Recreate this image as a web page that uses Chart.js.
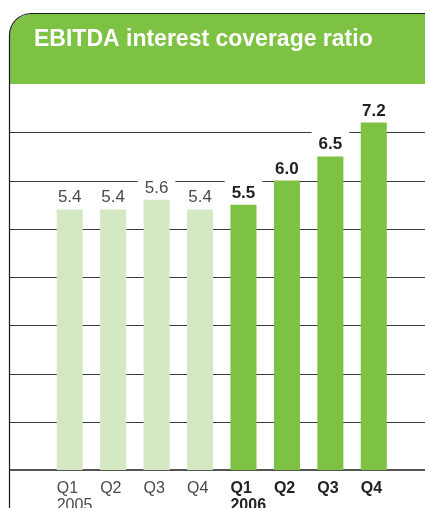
<!DOCTYPE html>
<html>
<head>
<meta charset="utf-8">
<script src="https://cdn.jsdelivr.net/npm/chart.js@4"></script>
<style>
  html, body { margin: 0; padding: 0; background: #fff; }
  #wrap { width: 425px; height: 508px; }
</style>
</head>
<body>
<div id="wrap"><canvas id="ebitda-chart"></canvas></div>
<script>
const titleText = 'EBITDA interest coverage ratio';
const quarters = [['Q1', '2005'], 'Q2', 'Q3', 'Q4', ['Q1', '2006'], 'Q2', 'Q3', 'Q4'];
const ratios = [5.4, 5.4, 5.6, 5.4, 5.5, 6.0, 6.5, 7.2];
const isCurrentYear = [false, false, false, false, true, true, true, true];
const gridValues = [1, 2, 3, 4, 5, 6, 7];

const green = '#7dc243';
const paleGreen = '#d4e9c3';
const fontFamily = '"Liberation Sans", Arial, Helvetica, sans-serif';

// header band, frame and horizontal rules
const framePlugin = {
  id: 'frame',
  beforeDraw(chart) {
    const ctx = chart.ctx;
    const w = chart.width, h = chart.height;
    const left = 10, top = 14, bottom = 84, r = 22;
    ctx.save();
    ctx.fillStyle = '#fff';
    ctx.fillRect(0, 0, w, h);

    ctx.beginPath();
    ctx.moveTo(left, bottom);
    ctx.lineTo(left, top + r);
    ctx.arcTo(left, top, left + r, top, r);
    ctx.lineTo(w, top);
    ctx.lineTo(w, bottom);
    ctx.closePath();
    ctx.fillStyle = green;
    ctx.fill();

    ctx.beginPath();
    ctx.moveTo(left - 0.5, h);
    ctx.lineTo(left - 0.5, top + r);
    ctx.arcTo(left - 0.5, top - 0.5, left + r, top - 0.5, r);
    ctx.lineTo(w, top - 0.5);
    ctx.strokeStyle = '#1a1a1a';
    ctx.lineWidth = 1.2;
    ctx.stroke();

    ctx.fillStyle = '#fff';
    ctx.font = 'bold 23px ' + fontFamily;
    ctx.textBaseline = 'alphabetic';
    ctx.textAlign = 'left';
    ctx.fillText(titleText, 34, 46);
    ctx.restore();
  },
  beforeDatasetsDraw(chart) {
    const ctx = chart.ctx;
    const y = chart.scales.y;
    ctx.save();
    ctx.strokeStyle = '#3a3a3a';
    ctx.lineWidth = 1;
    gridValues.forEach(v => {
      const py = Math.round(y.getPixelForValue(v)) + 0.5;
      ctx.beginPath();
      ctx.moveTo(10, py);
      ctx.lineTo(chart.width, py);
      ctx.stroke();
    });
    const base = y.getPixelForValue(0);
    ctx.strokeStyle = '#555';
    ctx.lineWidth = 2;
    ctx.beginPath();
    ctx.moveTo(10, base);
    ctx.lineTo(chart.width, base);
    ctx.stroke();
    ctx.restore();
  },
  afterDatasetsDraw(chart) {
    const ctx = chart.ctx;
    const meta = chart.getDatasetMeta(0);
    ctx.save();
    ctx.textAlign = 'left';
    ctx.textBaseline = 'alphabetic';
    meta.data.forEach((bar, i) => {
      const txt = ratios[i].toFixed(1);
      ctx.font = (isCurrentYear[i] ? 'bold ' : '') + '17px ' + fontFamily;
      const tw = ctx.measureText(txt).width;
      const tx = bar.x - tw / 2;
      const ty = bar.y - 7;
      ctx.fillStyle = '#fff';
      ctx.fillRect(tx - 7, ty - 18.5, tw + 14, 21);
      ctx.fillStyle = isCurrentYear[i] ? '#222' : '#4a4a4a';
      ctx.fillText(txt, tx, ty);
    });
    ctx.restore();
  }
};

new Chart(document.getElementById('ebitda-chart'), {
  type: 'bar',
  data: {
    labels: quarters,
    datasets: [{
      data: ratios,
      backgroundColor: isCurrentYear.map(c => c ? green : paleGreen),
      borderWidth: 0,
      barPercentage: 0.6,
      categoryPercentage: 1.0
    }]
  },
  options: {
    responsive: true,
    maintainAspectRatio: false,
    animation: false,
    layout: { padding: { top: 84, left: 48, right: 29.5, bottom: 0 } },
    plugins: {
      legend: { display: false },
      tooltip: { enabled: false },
      title: { display: false }
    },
    scales: {
      x: {
        offset: true,
        grid: { display: false, drawTicks: false },
        border: { display: false },
        afterFit(scale) { scale.height = 38; },
        ticks: {
          autoSkip: false,
          maxRotation: 0,
          align: 'start',
          labelOffset: -13,
          padding: 10,
          color: ctx => isCurrentYear[ctx.index] ? '#222' : '#4a4a4a',
          font: ctx => ({
            family: fontFamily,
            size: 16,
            lineHeight: 1.05,
            weight: isCurrentYear[ctx.index] ? 'bold' : 'normal'
          })
        }
      },
      y: {
        display: false,
        min: 0,
        max: 8
      }
    }
  },
  plugins: [framePlugin]
});
</script>
</body>
</html>
